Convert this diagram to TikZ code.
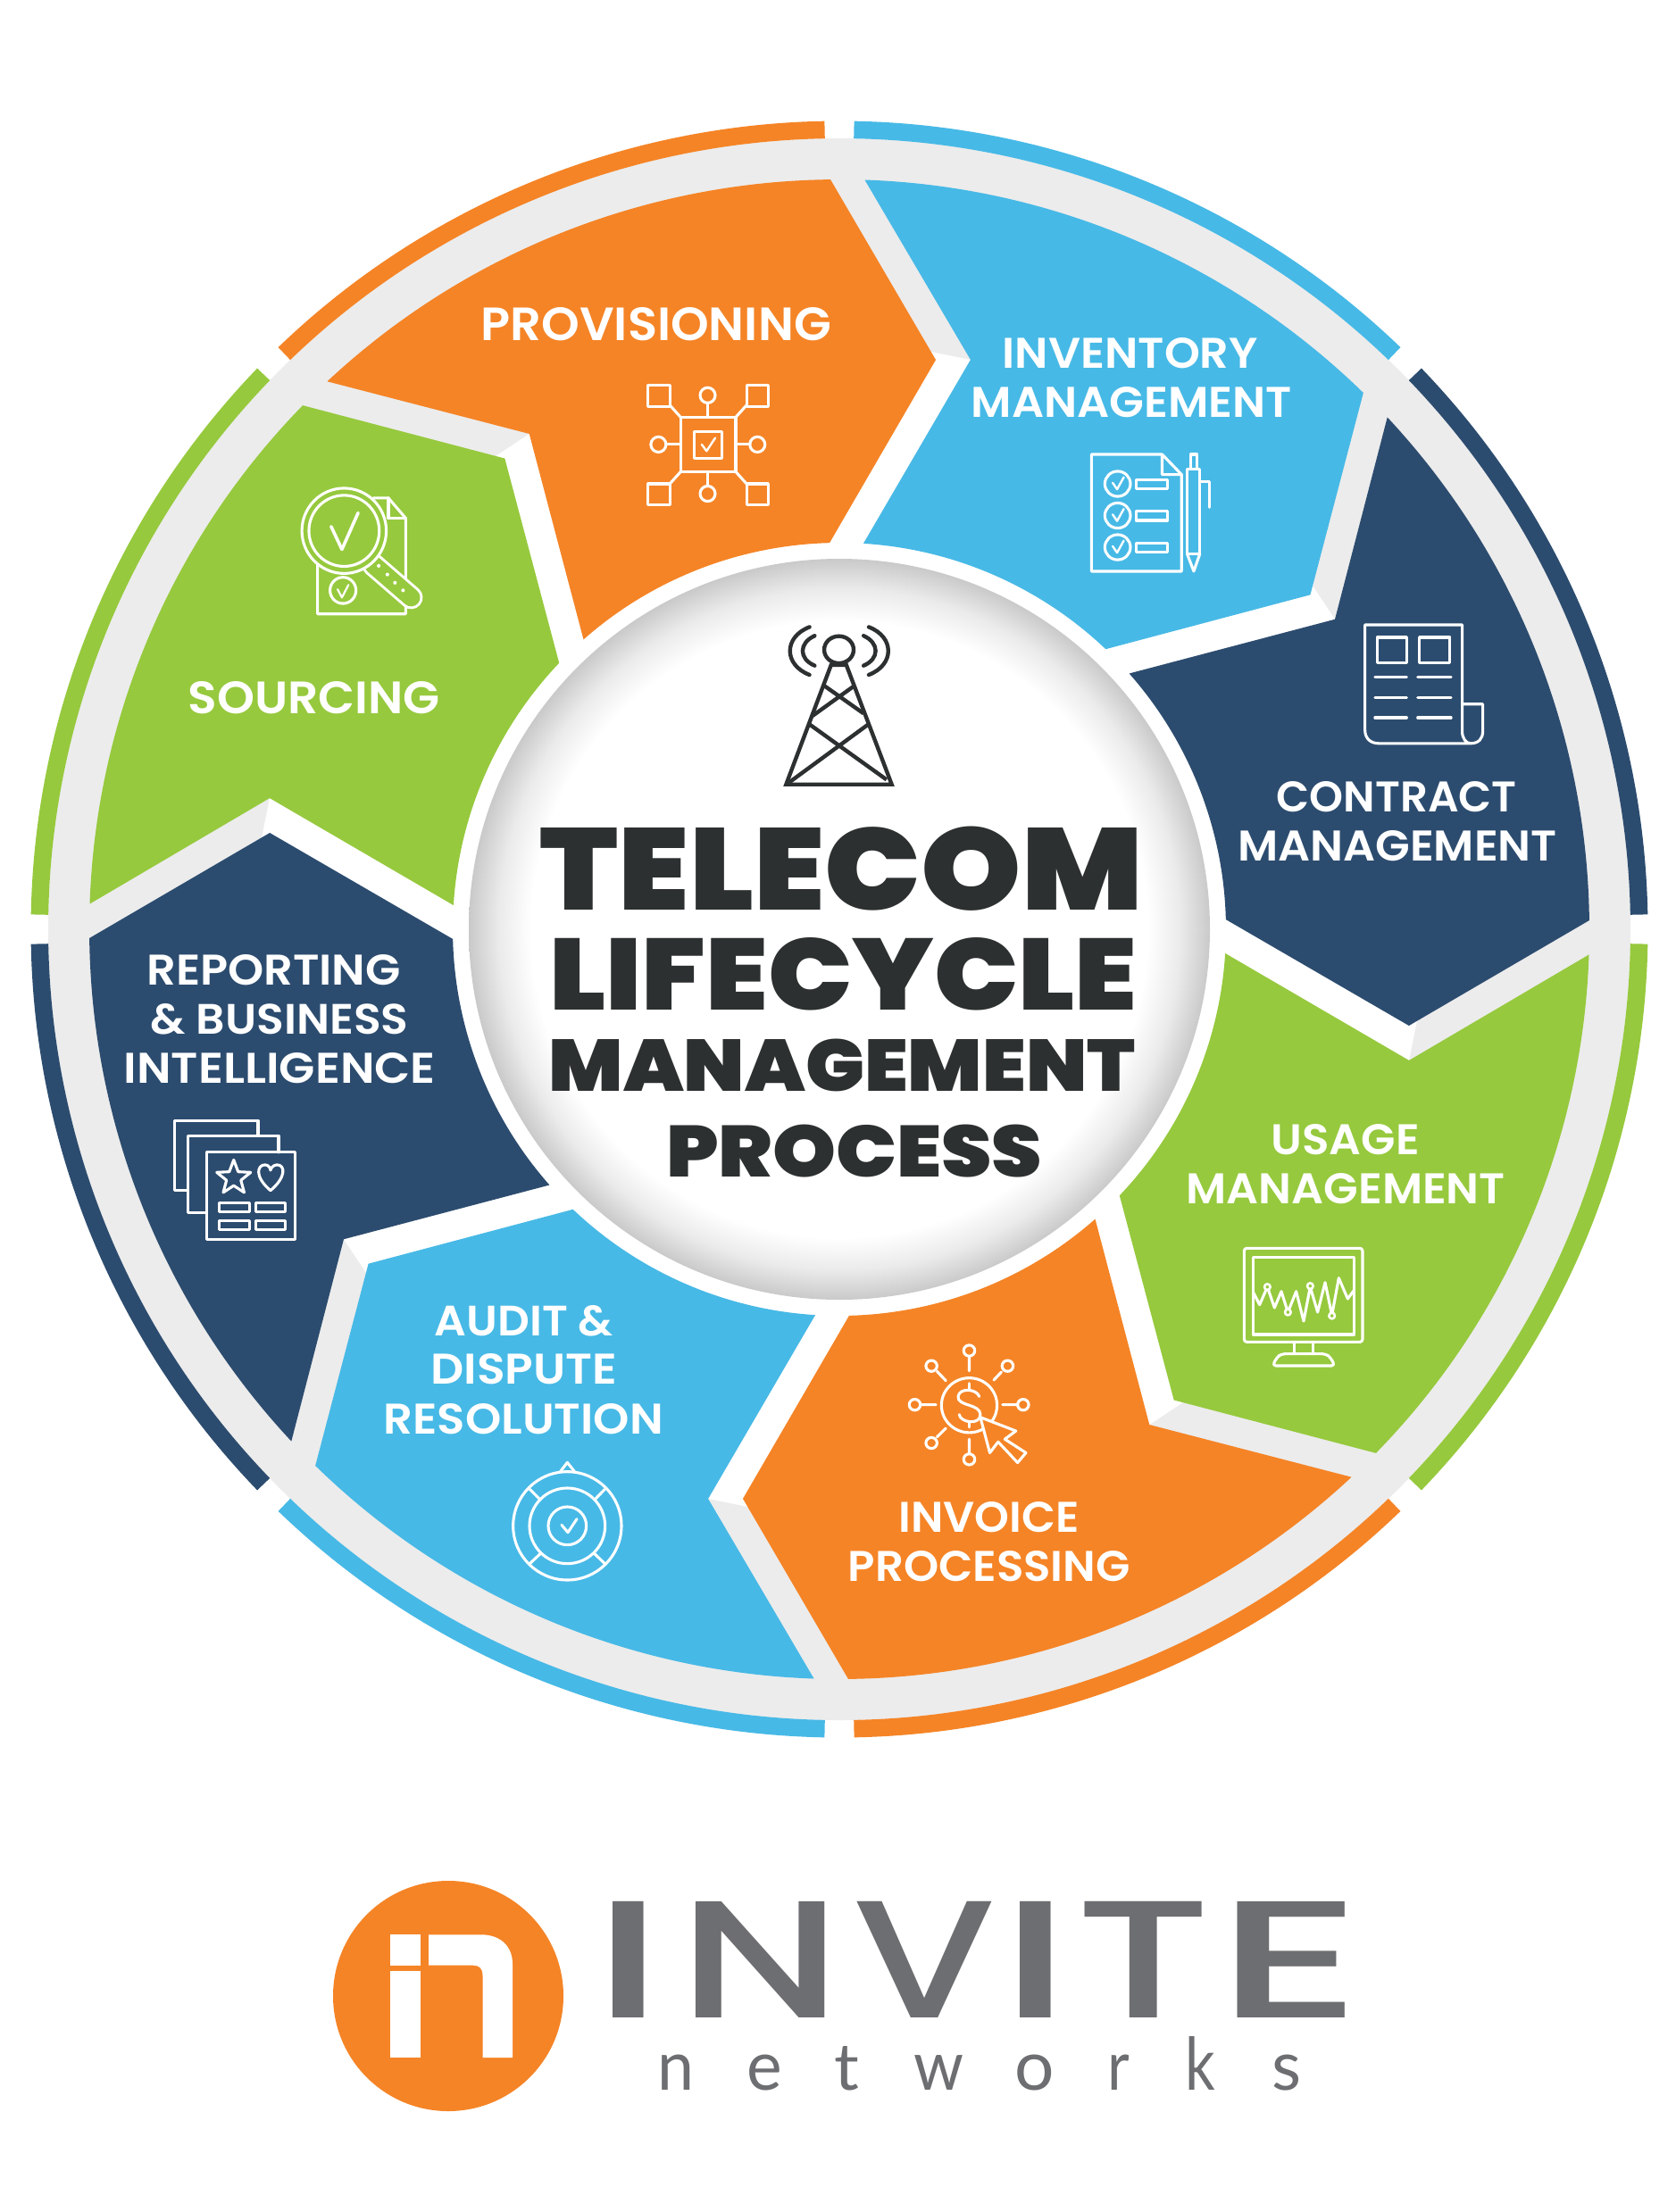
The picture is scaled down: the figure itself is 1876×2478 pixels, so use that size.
\documentclass[tikz,border=0pt]{standalone}
\usepackage{graphicx}
\usepackage{fontspec}
\newfontfamily\lab{Poppins SemiBold}
\newfontfamily\ttl{Poppins Black}
\newfontfamily\logo{Poppins SemiBold}
\newfontfamily\logom{Poppins Medium}
\newfontfamily\logob{Lato}
\definecolor{segorange}{HTML}{F58426}
\definecolor{segblue}{HTML}{47B9E6}
\definecolor{segdark}{HTML}{2C4C6F}
\definecolor{seggreen}{HTML}{96C93D}
\definecolor{ringgray}{HTML}{ECECEC}
\definecolor{inkdark}{HTML}{2D3030}
\definecolor{logogray}{HTML}{6D6E71}
\pgfdeclareradialshading{discshade}{\pgfpoint{0bp}{0bp}}{color(0bp)=(white); color(20.8bp)=(white); color(23bp)=(white!92!black); color(25bp)=(white!79!black); color(50bp)=(white!79!black)}
\newcommand{\fitline}[5]{% name, text (with font), x0, width; height, baseline follow
  \def\fitname{#1}\def\fittext{#2}\def\fitcol{#3}\def\fitw{#4}\def\fith{#5}\fitlineb}
\newcommand{\fitlineb}[2]{%
  \node[inner sep=0pt,anchor=base west,text=\fitcol] (\fitname) at (#1,-#2) {\resizebox{\fitw pt}{\fith pt}{\fittext}};}
\newcommand{\lblline}[6]{% name,text,width,height,x0,baseline
  \pgfmathsetmacro\fitwb{#3+4}\pgfmathsetmacro\fitxb{#5-2.5}%
  \node[inner sep=0pt,anchor=base west,text=white] (#1) at (\fitxb,-#6) {\resizebox{\fitwb pt}{#4pt}{\lab #2}};}
\newcommand{\gl}[5]{\kern-#3pt\resizebox{#1pt}{#2pt}{#5}\kern-#4pt}
\tikzset{
  zoomA/.style={shift={(900pt,-100pt)},x=0.6224pt,y=-0.6122pt},
  zoomB/.style={shift={(0pt,-100pt)},x=0.6059pt,y=-0.6122pt},
  zoomC/.style={shift={(0pt,-1000pt)},x=0.6059pt,y=-0.6122pt},
  zoomD/.style={shift={(900pt,-1000pt)},x=0.6224pt,y=-0.6122pt},
  zoomF/.style={shift={(560pt,-660pt)},x=0.4847pt,y=-0.4464pt},
  zoomM/.style={shift={(1380pt,-1390pt)},x=0.3333pt,y=-0.3333pt},
  zoomU/.style={shift={(560pt,-1630pt)},x=0.3333pt,y=-0.3333pt},
  icon/.style={white,line width=3.1pt,line join=round,line cap=round},
  tower/.style={inkdark,line width=4.4pt,line join=miter},
}
\begin{document}
\begin{tikzpicture}[x=1pt,y=1pt]
\useasboundingbox (0,0) rectangle (1876,-2478);
\fill[white] (0,0) rectangle (1876,-2478);
% wheel
\begin{scope}[shift={(940,-1041)}]
\fill[ringgray] (0,0) circle[radius=886];
\fill[white] (0,0) circle[radius=434];
\foreach \k/\c in {0/segblue,1/segdark,2/seggreen,3/segorange,4/segblue,5/segdark,6/seggreen,7/segorange}{
  \begin{scope}[rotate=-45*\k]
    \draw[\c,line width=19.5pt] (88.95:895.75) arc[start angle=88.95,end angle=46.05,radius=895.75];
    \fill[white] (77.03:654.7) -- (80.95:655) -- (91.45:433) -- (0,0) -- (86.43:433) -- cycle;
  \end{scope}}
\foreach \k/\c in {0/segblue,1/segdark,2/seggreen,3/segorange,4/segblue,5/segdark,6/seggreen,7/segorange}{
  \begin{scope}[rotate=-45*\k]
    \fill[\c] (88.06:840) arc[start angle=88.06,end angle=45.68,radius=840]
      -- (35.39:647) -- (46.45:433) arc[start angle=46.45,end angle=86.43,radius=433]
      -- (77.03:654.7) -- cycle;
  \end{scope}}
\shade[shading=discshade] (0,0) circle[radius=415];
\end{scope}
% title
\fitline{t1}{\ttl TELECOM}{inkdark}{675}{93.5}{604.6}{1019}
\fitline{t2}{\ttl LIFECYCLE}{inkdark}{658}{81}{615}{1131}
\fitline{t3}{\ttl MANAGEMENT}{inkdark}{656.5}{58.5}{614.5}{1222.5}
\fitline{t4}{\ttl PROCESS}{inkdark}{421}{58.5}{746}{1318.5}
% labels
\lblline{a1}{PROVISIONING}{388}{37}{541}{381.5}
\lblline{b1}{INVENTORY}{282}{34}{1125}{412}
\lblline{b2}{MANAGEMENT}{355}{34}{1090}{467}
\lblline{c1}{CONTRACT}{265}{34}{1432}{909.4}
\lblline{c2}{MANAGEMENT}{353.4}{34}{1388.6}{964.5}
\lblline{d1}{USAGE}{162}{34}{1426}{1293}
\lblline{d2}{MANAGEMENT}{353}{34}{1331}{1348}
\lblline{e1}{INVOICE}{198}{34}{1009}{1716}
\lblline{e2}{PROCESSING}{312}{34}{952}{1771.5}
\lblline{f1}{AUDIT \&}{196}{34}{489}{1496}
\lblline{f2}{DISPUTE}{204.5}{34}{485}{1550}
\lblline{f3}{RESOLUTION}{309}{34}{432}{1606}
\lblline{g1}{REPORTING}{280.4}{34}{166.6}{1103}
\lblline{g2}{\& BUSINESS}{284.6}{34}{171}{1158}
\lblline{g3}{INTELLIGENCE}{345}{34}{141}{1213}
\lblline{h1}{SOURCING}{278}{36}{213}{799}
% provisioning icon
\begin{scope}[zoomB]
\draw[icon] (1258,600) rectangle (1360,700);
\draw[icon] (1283,627) rectangle (1335,675);
\draw[icon,line width=2.4pt] (1297,650)--(1306,662)--(1322,638);
\foreach \x/\y in {1198/542,1380/542,1198/722,1380/722} \draw[icon] (\x,\y) rectangle ++(40,38);
\draw[icon] (1238,578)--(1258,600) (1380,578)--(1360,600) (1238,722)--(1258,700) (1380,722)--(1360,700);
\draw[icon] (1308,574)--(1308,600) (1308,700)--(1308,726) (1231,650)--(1258,650) (1360,650)--(1386,650);
\foreach \x/\y in {1308/560,1308/740,1217/650,1400/650} \draw[icon] (\x,\y) circle[radius=14];
\end{scope}
% sourcing icon
\begin{scope}[zoomB]
\draw[icon] (690,748)--(718,748)--(750,785)--(750,960)--(587,960)--(587,870);
\draw[icon] (718,748)--(718,785)--(750,785);
\draw[white,line width=26pt,line cap=round] (690,870)--(760,930);
\draw[seggreen,line width=20pt,line cap=round] (690,870)--(760,930);
\fill[seggreen] (636,808) circle[radius=78];
\draw[icon] (636,808) circle[radius=78];
\draw[icon] (636,808) circle[radius=65];
\draw[icon,line width=3.6pt] (612,800)--(632,842)--(662,775);
\foreach \x/\y in {700/872,716/888,730/903,745/917} \fill[white] (\x,\y) circle[radius=3.4];
\draw[icon] (634,917) circle[radius=24];
\draw[icon,line width=2.2pt] (624,915)--(632,930)--(644,907);
\end{scope}
% inventory icon
\begin{scope}[zoomA]
\draw[icon] (645,668)--(518,668)--(518,882)--(680,882)--(680,705)--(645,668)--(645,705)--(680,705);
\foreach \y in {722,780,838}{
  \draw[icon] (565,\y) circle[radius=23];
  \draw[icon,line width=2.4pt] (556,\y-2)--(564,\y+10)--(576,\y-12);
  \draw[icon] (598,\y-8) rectangle (655,\y+9);}
\draw[icon] (690,695) rectangle (713,850);
\draw[icon] (697,695)--(697,668)--(708,668)--(708,695);
\draw[icon] (690,850)--(702,882)--(713,850);
\draw[icon] (713,718)--(730,718)--(730,765);
\end{scope}
% contract icon
\begin{scope}[zoomA]
\draw[icon] (1185,1125)--(1185,980)--(1010,980)--(1010,1172) .. controls (1010,1188) and (1020,1197) .. (1035,1197)--(1200,1197) .. controls (1215,1197) and (1222,1188) .. (1222,1175)--(1222,1125)--(1185,1125)--(1185,1175) .. controls (1185,1188) and (1192,1197) .. (1200,1197);
\draw[icon] (1032,1003) rectangle (1085,1050) (1108,1003) rectangle (1163,1050);
\foreach \y in {1076,1113,1150} \draw[icon] (1028,\y)--(1085,\y) (1105,\y)--(1165,\y);
\end{scope}
% usage icon
\begin{scope}[zoomM]
\draw[icon,rounded corners=3pt] (40,25) rectangle (438,340);
\draw[icon] (70,55) rectangle (410,315);
\draw[icon] (208,340)--(208,380) (272,340)--(272,380);
\draw[icon,rounded corners=4pt] (135,420)--(150,392)--(165,380)--(315,380)--(330,392)--(345,420)--cycle;
\draw[icon] (72,175)--(92,215)--(118,155)--(142,225)--(165,170)--(187,240)--(215,170)--(240,270)--(262,155)--(287,240)--(312,140)--(335,250)--(358,125)--(388,195)--(410,165);
\foreach \x/\y in {118/155,187/240,262/152,335/252} {\fill[seggreen] (\x,\y) circle[radius=10]; \draw[icon,line width=2.6pt] (\x,\y) circle[radius=10];}
\end{scope}
% invoice icon
\begin{scope}[zoomD]
\draw[icon] (298,938) circle[radius=50];
\draw[icon] (316,922) .. controls (312,908) and (280,905) .. (278,922) .. controls (276,940) and (318,935) .. (318,955) .. controls (318,975) and (282,970) .. (280,955);
\draw[icon] (298,898)--(298,908) (298,968)--(298,978);
\foreach \x/\y in {298/838,298/1037,200/937,395/937,230/866,367/866,230/1007} \draw[icon] (\x,\y) circle[radius=10];
\draw[icon] (298,850)--(298,875) (298,1000)--(298,1025) (212,937)--(238,937) (358,937)--(384,937) (240,876)--(256,893) (356,877)--(342,892) (240,996)--(256,980);
\draw[icon,fill=segorange] (318,960)--(382,985)--(362,1000)--(400,1025)--(385,1043)--(350,1005)--(335,1025)--cycle;
\end{scope}
% audit icon
\begin{scope}[zoomU]
\draw[icon] (226,238) circle[radius=182];
\draw[icon] (226,238) circle[radius=127];
\draw[icon] (226,238) circle[radius=64];
\draw[icon] (100,115)--(135,150) (352,115)--(318,150) (100,365)--(135,332) (352,365)--(318,332);
\draw[icon] (203,55)--(226,25)--(250,55);
\draw[icon] (207,235)--(228,260)--(258,215);
\end{scope}
% reporting icon
\begin{scope}[zoomC]
\draw[icon] (477,445)--(477,417)--(322,417)--(322,545)--(347,545);
\draw[icon] (515,475)--(515,445)--(347,445)--(347,585)--(382,585);
\draw[icon] (382,475) rectangle (545,635);
\draw[icon] (432,489)--(440.2,510.7)--(463.4,511.8)--(445.3,526.3)--(451.4,548.7)--(432,536)--(412.6,548.7)--(418.7,526.3)--(400.6,511.8)--(423.8,510.7)--cycle;
\draw[icon] (500,545) .. controls (470,520) and (475,498) .. (490,498) .. controls (497,498) and (500,505) .. (500,508) .. controls (500,505) and (505,498) .. (512,498) .. controls (527,498) and (530,520) .. (500,545);
\draw[icon] (405,568) rectangle (462,584) (473,568) rectangle (528,584) (405,600) rectangle (462,617) (473,600) rectangle (528,617);
\end{scope}
% tower
\begin{scope}[zoomF]
\draw[tower] (783,152) circle[radius=34];
\draw[tower] (765,190)--(661,490)--(905,490)--(800,190)--cycle;
\draw[tower] (750,243)--(840,312) (818,243)--(722,318);
\draw[tower] (716,340)--(893,478) (850,340)--(668,485);
\draw[tower,line cap=round] (715,95) .. controls (655,120) and (655,190) .. (715,215);
\draw[tower,line cap=round] (727,117) .. controls (690,135) and (690,175) .. (727,192);
\draw[tower,line cap=round] (852,95) .. controls (912,120) and (912,190) .. (852,215);
\draw[tower,line cap=round] (840,117) .. controls (877,135) and (877,175) .. (840,192);
\end{scope}
% logo
\fill[segorange] (502,-2236) circle[radius=129];
\fill[white] (437,-2167) rectangle (471,-2201.7);
\fill[white] (437,-2208) rectangle (471,-2305);
\fill[white] (480,-2167.3)--(539,-2167.3) .. controls (560,-2167.3) and (574,-2180) .. (574,-2200)--(574,-2305)--(540.5,-2305)--(540.5,-2213) .. controls (540.5,-2205) and (537,-2201.7) .. (530,-2201.7)--(480,-2201.7)--cycle;
\node[inner sep=0pt,anchor=base west,text=logogray] (invite) at (689,-2260) {\logo\gl{68.4}{130}{19.7}{19.7}{I}\kern62.8pt\logom\gl{182}{130}{20.4}{20}{N}\kern34.4pt\gl{160}{130}{2.3}{2.3}{V}\kern32.9pt\logo\gl{68.4}{130}{19.7}{19.7}{I}\kern34.4pt\logom\gl{152}{130}{5}{5}{T}\kern34.4pt\gl{164}{130}{24}{13.6}{E}};
\node[inner sep=0pt,anchor=base west,text=logogray] (networks) at (741.8,-2341.7) {\logob\gl{41}{39.5}{5.8}{4.6}{n}\kern66.6pt\gl{39.6}{39.5}{2.3}{2.9}{e}\kern62pt\gl{27.8}{49}{1}{2.2}{t}\kern63.4pt\gl{56}{39}{.3}{.5}{w}\kern61.1pt\gl{44.4}{39.5}{3}{3}{o}\kern67.3pt\gl{24.7}{39.5}{5.3}{-1.3}{r}\kern66.6pt\gl{33.6}{60}{5}{-1.8}{k}\kern63.7pt\gl{33}{39.5}{3}{3}{s}};
\end{tikzpicture}
\end{document}
